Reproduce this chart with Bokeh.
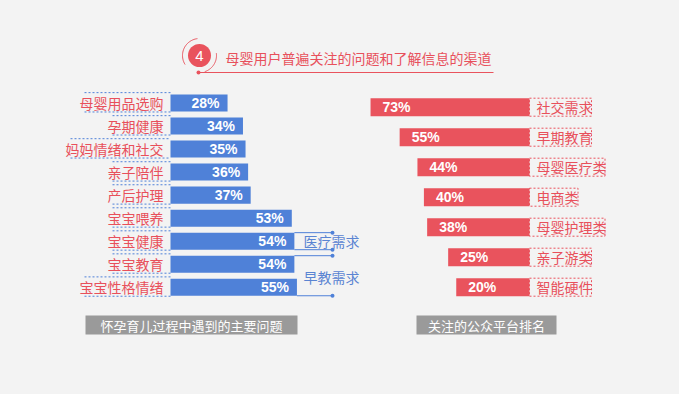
import numpy as np
from bokeh.plotting import figure
from bokeh.models import Range1d, ColumnDataSource
from bokeh.embed import file_html
from bokeh.resources import INLINE
from bokeh.core.properties import value

# ---------------- data ----------------
TITLE = "母婴用户普遍关注的问题和了解信息的渠道"
BADGE = "4"
left_labels = ["母婴用品选购", "孕期健康", "妈妈情绪和社交", "亲子陪伴", "产后护理",
               "宝宝喂养", "宝宝健康", "宝宝教育", "宝宝性格情绪"]
left_values = [28, 34, 35, 36, 37, 53, 54, 54, 55]
right_labels = ["社交需求", "早期教育", "母婴医疗类", "电商类", "母婴护理类", "亲子游类", "智能硬件"]
right_values = [73, 55, 44, 40, 38, 25, 20]
left_caption = "怀孕育儿过程中遇到的主要问题"
right_caption = "关注的公众平台排名"
group_names = ["医疗需求", "早教需求"]
group_first_row = [6, 7]
group_last_row = [6, 8]

# ---------------- style / layout ----------------
BG = "#f3f3f3"
RED = "#e9535d"
RED_TXT = "#e8505b"
BLUE = "#4f81d8"
BLUE_TXT = "#5a84d2"
GRAY = "#9a9a9a"
CJK = value("Noto Sans CJK SC")
NUM = value("Liberation Sans")

W, H, OFF = 679, 394, 0

# left panel scale
LBASE_PX, LPX_PER, LZERO = 170.0, 2.57, 5.8
LROW0, LSTEP, LBAR = 102.5, 23.03, 0.74
# right panel scale
RBASE_PX, RPX_PER, RZERO = 529.0, 1.617, -25.3
RROW0, RSTEP, RBAR = 106.7, 30.0, 0.6

p = figure(width=W, height=H,
           x_range=Range1d(OFF, OFF + W), y_range=Range1d(OFF + H, OFF),
           output_backend="svg", toolbar_location=None, min_border=0,
           x_axis_location=None, y_axis_location=None,
           background_fill_color=BG, border_fill_color=BG, outline_line_color=None)
p.grid.visible = False

p.extra_x_ranges = {
    "lx": Range1d(LZERO + (OFF - LBASE_PX) / LPX_PER, LZERO + (OFF + W - LBASE_PX) / LPX_PER),
    "rx": Range1d(RZERO + (RBASE_PX - OFF) / RPX_PER, RZERO + (RBASE_PX - OFF - W) / RPX_PER),
}
p.extra_y_ranges = {
    "ly": Range1d((OFF + H - LROW0) / LSTEP, (OFF - LROW0) / LSTEP),
    "ry": Range1d((OFF + H - RROW0) / RSTEP, (OFF - RROW0) / RSTEP),
}

# ---------------- title ----------------
cx, cy = 199, 55
p.scatter([cx], [cy], size=23, fill_color=RED, line_color=None)
p.text([cx], [cy + 0.5], text=[BADGE], text_color="white", text_font=NUM,
       text_font_size="15px", text_align="center", text_baseline="middle")
r = 17
for a0, a1 in [(97, 212), (8, -72)]:
    th = np.radians(np.linspace(a0, a1, 40))
    p.line(cx + r * np.cos(th), cy - r * np.sin(th), line_color=RED, line_width=1)
p.line([198, 493], [72, 72], line_color=RED, line_width=1)
p.scatter([198], [72], size=4, fill_color=RED, line_color=None)
p.text([225], [57], text=[TITLE], text_color=RED_TXT, text_font=CJK,
       text_font_size="14px", text_align="left", text_baseline="middle")

# ---------------- left panel ----------------
lrows = list(range(len(left_labels)))
lsrc = ColumnDataSource(dict(row=lrows, val=left_values, lab=left_labels,
                             txt=[f"{v}%" for v in left_values]))
p.hbar(y="row", left=LZERO, right="val", height=LBAR, source=lsrc,
       fill_color=BLUE, line_color=None, x_range_name="lx", y_range_name="ly")
p.text(x="val", y="row", text="txt", source=lsrc, x_offset=-8,
       text_align="right", text_baseline="middle", text_color="white",
       text_font=NUM, text_font_size="14px", text_font_style="bold",
       x_range_name="lx", y_range_name="ly")
p.text(x=LZERO, y="row", text="lab", source=lsrc, x_offset=-7,
       text_align="right", text_baseline="middle", text_color=RED_TXT,
       text_font=CJK, text_font_size="14px",
       x_range_name="lx", y_range_name="ly")
# dotted frames of left labels
x0s, x1s, ys = [], [], []
for i, lab in enumerate(left_labels):
    start = LBASE_PX - 7 - 14 * len(lab) + 5
    for dy in (-LBAR / 2 - 0.08, LBAR / 2 + 0.02):
        x0s.append(start); x1s.append(LBASE_PX); ys.append(i + dy)
p.segment(x0=x0s, y0=ys, x1=x1s, y1=ys, line_color=BLUE, line_width=1,
          line_dash="2 2", y_range_name="ly")

# group brackets
BRACKET_PX = 332
bx = LZERO + (BRACKET_PX - LBASE_PX) / LPX_PER
bx0, by = [], []
for f, l in zip(group_first_row, group_last_row):
    bx0 += [left_values[f], left_values[l]]
    by += [f - LBAR / 2, l + LBAR / 2]
p.segment(x0=bx0, y0=by, x1=[bx] * len(by), y1=by, line_color=BLUE, line_width=1,
          x_range_name="lx", y_range_name="ly")
p.scatter([bx] * len(by), by, size=4, fill_color=BLUE, line_color=None,
          x_range_name="lx", y_range_name="ly")
p.text(x=[303] * len(group_names),
       y=[(f + l) / 2 + (0.05 if f != l else 0) for f, l in zip(group_first_row, group_last_row)],
       text=group_names, text_color=BLUE_TXT, text_font=CJK, text_font_size="14px",
       text_align="left", text_baseline="middle", y_range_name="ly")

# ---------------- right panel ----------------
rrows = list(range(len(right_labels)))
box_l = [RBASE_PX] * len(rrows)
box_r = [RBASE_PX + 8 + 13.5 * len(s) for s in right_labels]
rsrc = ColumnDataSource(dict(row=rrows, val=right_values, lab=right_labels,
                             txt=[f"{v}%" for v in right_values]))
p.hbar(y="row", left="val", right=RZERO, height=RBAR, source=rsrc,
       fill_color=RED, line_color=None, x_range_name="rx", y_range_name="ry")
p.text(x="val", y="row", text="txt", source=rsrc, x_offset=12,
       text_align="left", text_baseline="middle", text_color="white",
       text_font=NUM, text_font_size="14px", text_font_style="bold",
       x_range_name="rx", y_range_name="ry")
p.quad(left=box_l, right=box_r,
       top=[i - RBAR / 2 for i in rrows], bottom=[i + RBAR / 2 for i in rrows],
       fill_color=None, line_color=RED, line_width=1, line_dash="2 2",
       y_range_name="ry")
p.text(x=RZERO, y="row", text="lab", source=rsrc, x_offset=7,
       text_align="left", text_baseline="middle", text_color=RED_TXT,
       text_font=CJK, text_font_size="14px",
       x_range_name="rx", y_range_name="ry")

# ---------------- captions ----------------
caps = [(left_caption, 85, 297), (right_caption, 416, 556)]
for txt, l, rr in caps:
    p.quad(left=[l], right=[rr], top=[315], bottom=[334], fill_color=GRAY, line_color=None)
    p.text([(l + rr) / 2], [324.5], text=[txt], text_color="white", text_font=CJK,
           text_font_size="13px", text_align="center", text_baseline="middle")

html = file_html(p, INLINE)
html = html.replace("<head>", "<head><style>html,body{background:%s;}</style>" % BG, 1)
open("out.html", "w").write(html)
